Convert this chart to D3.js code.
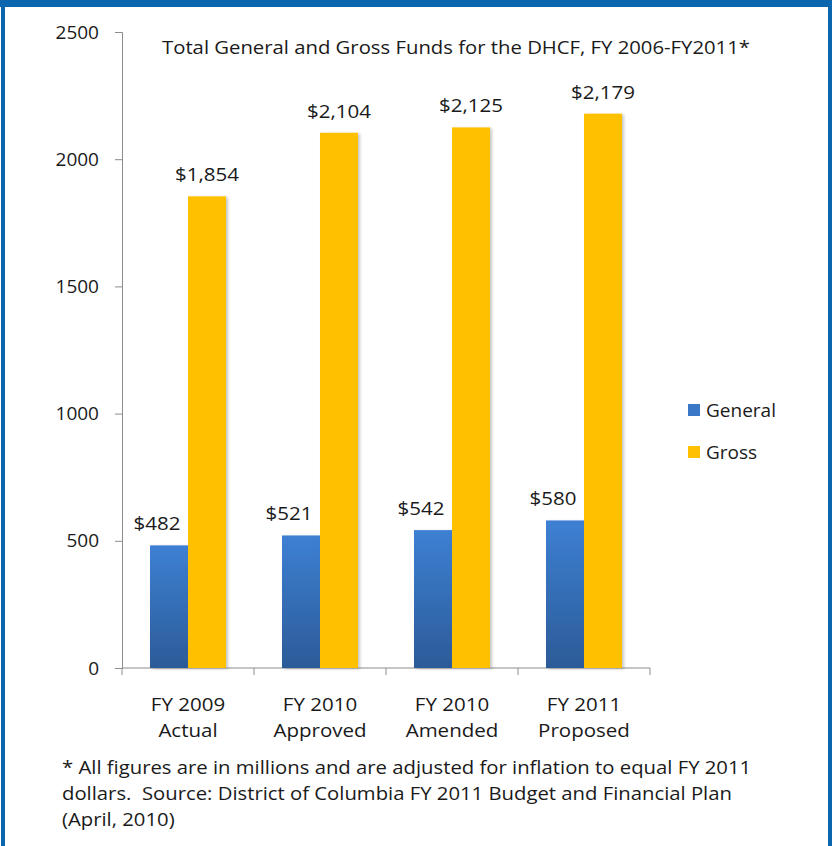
<!DOCTYPE html>
<html>
<head>
<meta charset="utf-8">
<script src="https://cdn.jsdelivr.net/npm/d3@7"></script>
<style>
  html, body { margin: 0; padding: 0; background: #fff; }
  svg text { font-family: "Open Sans", "Noto Sans", sans-serif; fill: #1a1a1a; }
</style>
</head>
<body>
<script>
// Funds for the DHCF, in millions of FY 2011 dollars
const categories = [["FY 2009", "Actual"], ["FY 2010", "Approved"], ["FY 2010", "Amended"], ["FY 2011", "Proposed"]];
const seriesNames = ["General", "Gross"];
const generalFunds = [482, 521, 542, 580];
const grossFunds = [1854, 2104, 2125, 2179];
const yTicks = [0, 500, 1000, 1500, 2000, 2500];
const titleText = "Total General and Gross Funds for the DHCF, FY 2006-FY2011*";
const footnoteLines = [
  "* All figures are in millions and are adjusted for inflation to equal FY 2011",
  "dollars.  Source: District of Columbia FY 2011 Budget and Financial Plan",
  "(April, 2010)"
];

const W = 835, H = 846;
const SX = 1.08; // slight horizontal widening of the label type
const svg = d3.select("body").append("svg").attr("width", W).attr("height", H);

const defs = svg.append("defs");
const grad = defs.append("linearGradient").attr("id", "blueGrad")
  .attr("x1", 0).attr("y1", 0).attr("x2", 0).attr("y2", 1);
grad.append("stop").attr("offset", "0%").attr("stop-color", "#3D80D3");
grad.append("stop").attr("offset", "100%").attr("stop-color", "#2C5B98");
const shadow = defs.append("filter").attr("id", "barShadow")
  .attr("x", "-20%").attr("y", "-5%").attr("width", "150%").attr("height", "115%");
shadow.append("feDropShadow").attr("dx", 2).attr("dy", 1).attr("stdDeviation", 1.5)
  .attr("flood-color", "#000").attr("flood-opacity", 0.22);

// frame
const frameColor = "#0A66AE";
svg.append("rect").attr("x", 0).attr("y", 0).attr("width", 832).attr("height", 7).attr("fill", frameColor);
svg.append("rect").attr("x", 1).attr("y", 0).attr("width", 4).attr("height", H).attr("fill", frameColor);
svg.append("rect").attr("x", 828).attr("y", 0).attr("width", 4).attr("height", H).attr("fill", frameColor);

const plot = { left: 122, right: 650, top: 32, bottom: 668 };

const x = d3.scaleBand().domain(d3.range(categories.length))
  .range([plot.left, plot.right]).paddingInner(0).paddingOuter(0);
const inner = d3.scaleBand().domain(seriesNames)
  .range([0, x.bandwidth()]).paddingInner(0).paddingOuter(0.737);
const y = d3.scaleLinear().domain([0, 2500]).range([plot.bottom, plot.top]);

// y axis
const yAxis = svg.append("g").attr("transform", `translate(${plot.left},0)`)
  .call(d3.axisLeft(y).tickValues(yTicks).tickSize(7).tickPadding(16).tickFormat(d3.format("d")));
yAxis.select(".domain").attr("stroke", "#8c8c8c");
yAxis.selectAll(".tick line").attr("stroke", "#8c8c8c");
yAxis.selectAll(".tick text").attr("font-size", 19).attr("fill", "#1a1a1a")
  .style("font-family", '"Open Sans", sans-serif');

// x axis baseline with category separators
const xAxis = svg.append("g").attr("transform", `translate(0,${plot.bottom})`);
xAxis.append("line").attr("x1", plot.left).attr("x2", plot.right)
  .attr("stroke", "#8c8c8c");
const sepPositions = d3.range(categories.length + 1).map(i => i < categories.length ? x(i) : x(i - 1) + x.bandwidth());
xAxis.selectAll("line.sep").data(sepPositions).join("line").attr("class", "sep")
  .attr("x1", d => d).attr("x2", d => d).attr("y1", 0).attr("y2", 7).attr("stroke", "#8c8c8c");

const catLabels = svg.append("g").selectAll("text").data(categories).join("text")
  .attr("text-anchor", "middle").attr("font-size", 19)
  .attr("transform", (d, i) => `translate(${x(i) + x.bandwidth() / 2},0) scale(${SX},1)`);
catLabels.append("tspan").attr("x", 0).attr("y", 711).text(d => d[0]);
catLabels.append("tspan").attr("x", 0).attr("y", 737).text(d => d[1]);

// bars
const rows = categories.map((c, i) => ({ i, General: generalFunds[i], Gross: grossFunds[i] }));
const groups = svg.append("g").selectAll("g").data(rows).join("g")
  .attr("transform", d => `translate(${x(d.i)},0)`);

groups.selectAll("rect").data(d => seriesNames.map(k => ({ key: k, value: d[k] })))
  .join("rect")
  .attr("x", d => inner(d.key))
  .attr("width", inner.bandwidth())
  .attr("y", d => y(d.value))
  .attr("height", d => y(0) - y(d.value))
  .attr("fill", d => d.key === "General" ? "url(#blueGrad)" : "#FFC000")
  .attr("filter", "url(#barShadow)");

// value labels
const fmt = v => "$" + d3.format(",")(v);
groups.selectAll("text").data(d => seriesNames.map(k => ({ key: k, value: d[k] })))
  .join("text")
  .attr("text-anchor", "middle")
  .attr("font-size", 19)
  .attr("transform", d => {
    const cx = inner(d.key) + inner.bandwidth() / 2 + (d.key === "General" ? -12 : 0);
    return `translate(${cx},${y(d.value) - 15}) scale(${SX},1)`;
  })
  .text(d => fmt(d.value));

// title
svg.append("text").attr("x", 162).attr("y", 54)
  .attr("font-size", 18).attr("textLength", 588).attr("lengthAdjust", "spacingAndGlyphs")
  .text(titleText);

// legend
const legendColors = { General: "#3A78C6", Gross: "#FFC000" };
const legend = svg.append("g").selectAll("g").data(seriesNames).join("g")
  .attr("transform", (d, i) => `translate(688,${404 + i * 42})`);
legend.append("rect").attr("width", 12).attr("height", 12).attr("fill", d => legendColors[d]);
legend.append("text").attr("x", 18).attr("y", 13).attr("font-size", 19).text(d => d);

// footnote
svg.append("g").attr("transform", `translate(62,0) scale(1.097,1)`)
  .selectAll("text").data(footnoteLines).join("text")
  .attr("x", 0).attr("y", (d, i) => 774 + i * 26).attr("font-size", 18.5)
  .attr("xml:space", "preserve").text(d => d);
</script>
</body>
</html>
